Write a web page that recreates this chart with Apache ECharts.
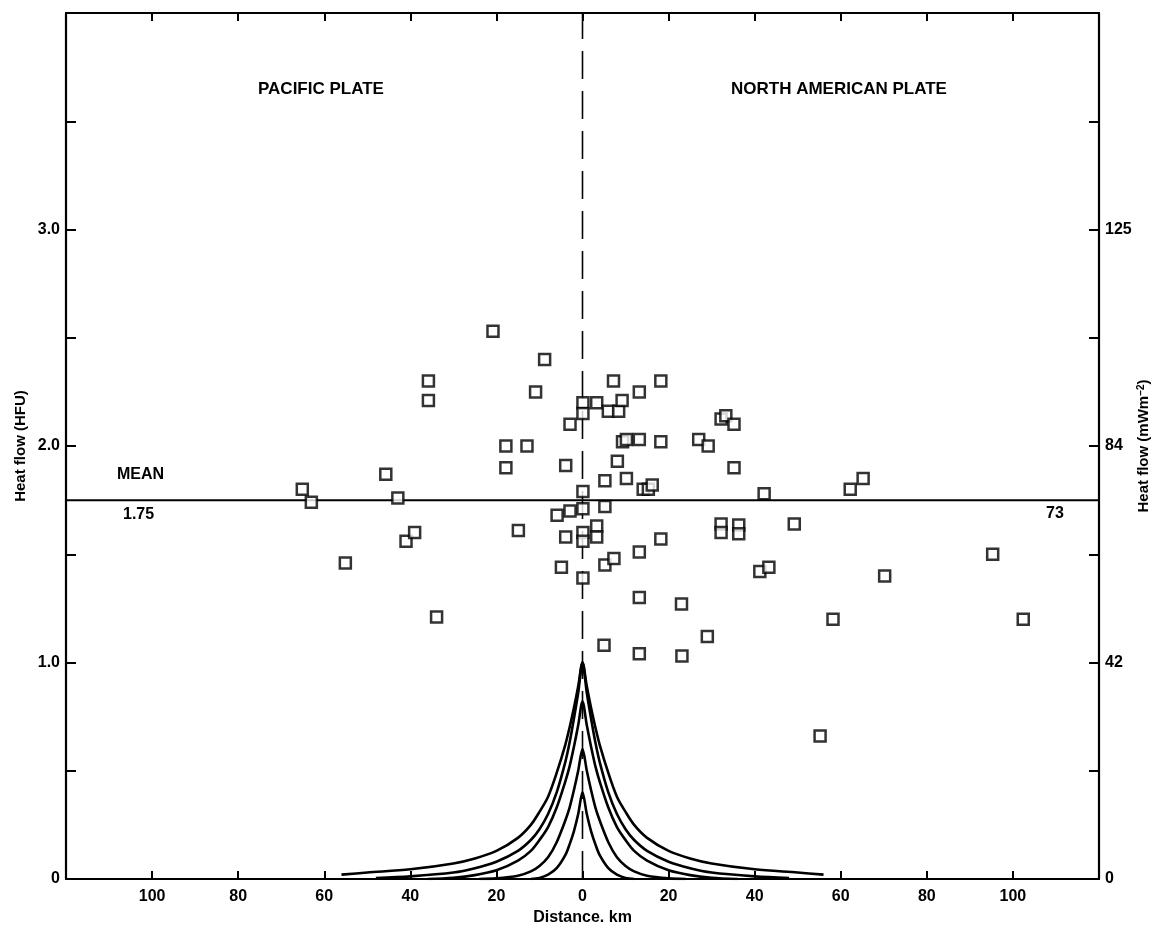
<!DOCTYPE html>
<html>
<head>
<meta charset="utf-8">
<script src="https://cdn.jsdelivr.net/npm/echarts@6/dist/echarts.min.js"></script>
<style>
html,body{margin:0;padding:0;background:#fff;overflow:hidden;}
#chart{width:1153px;height:926px;}
</style>
</head>
<body>
<div id="chart"></div>
<script>
// ---- data ----
const heatFlowPoints = [
  [-65.1,1.80],[-63.0,1.74],[-55.1,1.46],[-45.7,1.87],[-42.9,1.76],[-41.0,1.56],[-39.0,1.60],
  [-35.8,2.30],[-35.8,2.21],[-33.9,1.21],[-20.8,2.53],[-17.8,2.00],[-17.8,1.90],[-14.9,1.61],
  [-12.9,2.00],[-10.9,2.25],[-8.8,2.40],[-5.9,1.68],[-4.9,1.44],[-3.9,1.91],[-3.9,1.58],
  [-2.9,2.10],[-2.9,1.70],
  [0.1,2.20],[0.1,2.15],[0.1,1.79],[0.1,1.71],[0.1,1.60],[0.1,1.56],[0.1,1.39],
  [3.3,2.20],[3.3,1.63],[3.3,1.58],[5.0,1.08],[5.2,1.84],[5.2,1.72],[5.2,1.45],
  [6.0,2.16],[7.2,2.30],[7.3,1.48],[8.1,1.93],[8.4,2.16],[9.2,2.21],[9.3,2.02],
  [10.2,2.03],[10.2,1.85],[13.2,2.25],[13.2,2.03],[13.2,1.51],[13.2,1.30],[13.2,1.04],
  [14.1,1.80],[15.3,1.80],[16.2,1.82],[18.2,2.30],[18.2,2.02],[18.2,1.57],
  [23.0,1.27],[23.1,1.03],[27.0,2.03],[29.2,2.00],[29.0,1.12],
  [32.2,2.125],[33.3,2.14],[35.2,2.10],[35.2,1.90],[32.2,1.64],[32.2,1.60],
  [36.3,1.635],[36.3,1.595],[41.2,1.42],[43.3,1.44],[42.2,1.78],[49.2,1.64],
  [55.2,0.66],[58.2,1.20],[62.2,1.80],[65.2,1.85],[70.2,1.40],[95.3,1.50],[102.4,1.20]
];

// model curves (distance km, heat flow HFU)
const curveA = [[-56,0.02],[-50,0.03],[-40,0.045],[-30,0.072],[-25,0.095],[-20,0.13],[-15,0.19],[-12,0.25],[-10,0.31],[-8,0.38],[-6,0.49],[-4,0.62],[-3,0.70],[-2,0.79],[-1,0.89],[0,1.0],
  [1,0.89],[2,0.79],[3,0.70],[4,0.62],[6,0.49],[8,0.38],[10,0.31],[12,0.25],[15,0.19],[20,0.13],[25,0.095],[30,0.072],[40,0.045],[50,0.03],[56,0.02]];
const curveB = [[-48,0.004],[-40,0.012],[-30,0.03],[-25,0.05],[-20,0.08],[-15,0.13],[-12,0.18],[-10,0.23],[-8,0.30],[-6,0.40],[-4,0.54],[-3,0.63],[-2,0.74],[-1,0.86],[0,1.0],
  [1,0.86],[2,0.74],[3,0.63],[4,0.54],[6,0.40],[8,0.30],[10,0.23],[12,0.18],[15,0.13],[20,0.08],[25,0.05],[30,0.03],[40,0.012],[48,0.004]];
const curveC = [[-36,0],[-30,0.006],[-25,0.018],[-20,0.04],[-15,0.085],[-12,0.13],[-10,0.18],[-8,0.24],[-6,0.33],[-4,0.45],[-3,0.52],[-2,0.61],[-1,0.71],[0,0.82],
  [1,0.71],[2,0.61],[3,0.52],[4,0.45],[6,0.33],[8,0.24],[10,0.18],[12,0.13],[15,0.085],[20,0.04],[25,0.018],[30,0.006],[36,0]];
const curveD = [[-24,0],[-20,0.003],[-15,0.015],[-12,0.035],[-10,0.06],[-8,0.10],[-6,0.17],[-4,0.27],[-3,0.33],[-2,0.41],[-1,0.50],[0,0.60],
  [1,0.50],[2,0.41],[3,0.33],[4,0.27],[6,0.17],[8,0.10],[10,0.06],[12,0.035],[15,0.015],[20,0.003],[24,0]];
const curveE = [[-12,0],[-10,0.005],[-8,0.02],[-6,0.05],[-4,0.11],[-3,0.16],[-2,0.22],[-1,0.30],[0,0.40],
  [1,0.30],[2,0.22],[3,0.16],[4,0.11],[6,0.05],[8,0.02],[10,0.005],[12,0]];

const meanHFU = 1.75;
const meanLine = [[-120, meanHFU],[120, meanHFU]];
const faultLine = [[0,0],[0,4]];

const leftTickValues = [0,1,2,3];
const leftTickLabels = ['0','1.0','2.0','3.0'];
const rightTickLabels = ['0','42','84','125'];

// ---- chart ----
const FONT = '"Liberation Sans","Arial",sans-serif';
const chart = echarts.init(document.getElementById('chart'), null, {width:1153, height:926});

function curveSeries(d){
  return {type:'line', data:d, smooth:0.3, showSymbol:false, silent:true,
    lineStyle:{color:'#000', width:2.6}, z:3};
}
function yLabel(arr){
  return function(v){
    const i = leftTickValues.indexOf(v);
    return i >= 0 ? arr[i] : '';
  };
}
const axisLineStyle = {onZero:false, lineStyle:{color:'#000', width:2.2}};

chart.setOption({
  animation:false,
  backgroundColor:'#fff',
  grid:{left:66, right:54, top:13, bottom:47, containLabel:false, outerBoundsMode:'none'},
  xAxis:[{
    type:'value', min:-120, max:120, interval:20, position:'bottom',
    axisLine:axisLineStyle,
    axisTick:{inside:true, length:8, lineStyle:{color:'#000', width:2}},
    axisLabel:{color:'#000', fontFamily:FONT, fontWeight:'bold', fontSize:16, margin:10,
      showMinLabel:false, showMaxLabel:false, formatter:v=>String(Math.abs(v))},
    splitLine:{show:false},
    name:'Distance. km', nameLocation:'middle', nameGap:27,
    nameTextStyle:{color:'#000', fontFamily:FONT, fontWeight:'bold', fontSize:16}
  },{
    type:'value', min:-120, max:120, interval:20, position:'top',
    axisLine:axisLineStyle,
    axisTick:{inside:true, length:8, lineStyle:{color:'#000', width:2}},
    axisLabel:{show:false}, splitLine:{show:false}
  }],
  yAxis:[{
    type:'value', min:0, max:4, interval:0.5, position:'left',
    axisLine:Object.assign({show:true}, axisLineStyle),
    axisTick:{show:true, inside:true, length:10, lineStyle:{color:'#000', width:2}},
    axisLabel:{color:'#000', fontFamily:FONT, fontWeight:'bold', fontSize:16, margin:6,
      formatter:yLabel(leftTickLabels)},
    splitLine:{show:false},
    name:'Heat flow (HFU)', nameLocation:'middle', nameGap:38, nameRotate:90, nameMoveOverlap:false,
    nameTextStyle:{color:'#000', fontFamily:FONT, fontWeight:'bold', fontSize:15}
  },{
    type:'value', min:0, max:4, interval:0.5, position:'right',
    axisLine:Object.assign({show:true}, axisLineStyle),
    axisTick:{show:true, inside:true, length:10, lineStyle:{color:'#000', width:2}},
    axisLabel:{color:'#000', fontFamily:FONT, fontWeight:'bold', fontSize:16, margin:6,
      formatter:yLabel(rightTickLabels)},
    splitLine:{show:false},
    name:'Heat flow (mWm{sup|−2})', nameLocation:'middle', nameGap:37, nameRotate:90, nameMoveOverlap:false,
    nameTextStyle:{color:'#000', fontFamily:FONT, fontWeight:'bold', fontSize:15,
      rich:{sup:{fontSize:10, fontFamily:FONT, fontWeight:'bold', color:'#000', verticalAlign:'top', padding:[0,0,6,0]}}}
  }],
  series:[
    curveSeries(curveA), curveSeries(curveB), curveSeries(curveC), curveSeries(curveD), curveSeries(curveE),
    {type:'line', data:meanLine, showSymbol:false, silent:true, lineStyle:{color:'#000', width:2}, z:2},
    {type:'line', data:faultLine, showSymbol:false, silent:true, lineStyle:{color:'#000', width:1.6, type:[28,12]}, z:2},
    {type:'scatter', data:heatFlowPoints, symbol:'rect', symbolSize:11, silent:true,
      itemStyle:{color:'#fff', borderColor:'#000', borderWidth:2.5}, z:5}
  ],
  graphic:[
    {type:'text', left:258, top:81, style:{text:'PACIFIC PLATE', font:'bold 17px '+FONT, fill:'#000'}},
    {type:'text', left:731, top:81, style:{text:'NORTH AMERICAN PLATE', font:'bold 17px '+FONT, fill:'#000'}},
    {type:'text', left:117, top:467, style:{text:'MEAN', font:'bold 16px '+FONT, fill:'#000'}},
    {type:'text', left:123, top:507, style:{text:'1.75', font:'bold 16px '+FONT, fill:'#000'}},
    {type:'text', left:1046, top:506, style:{text:'73', font:'bold 16px '+FONT, fill:'#000'}}
  ]
});
</script>
</body>
</html>
